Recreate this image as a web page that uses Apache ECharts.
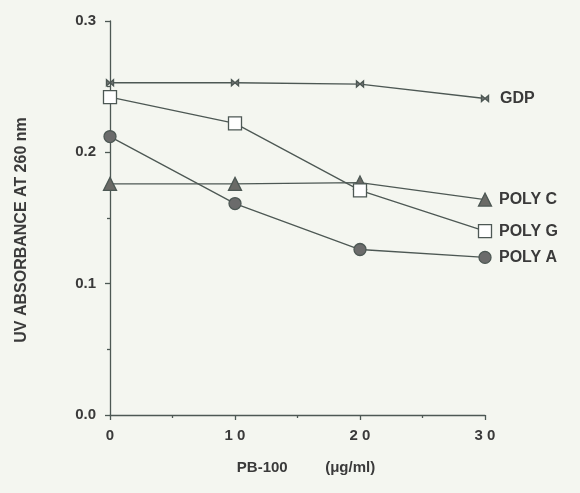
<!DOCTYPE html>
<html><head><meta charset="utf-8">
<script src="https://cdn.jsdelivr.net/npm/echarts@6/dist/echarts.min.js"></script>
<style>html,body{margin:0;padding:0;background:#f4f6f0;}#c{width:580px;height:493px;}</style>
</head><body><div id="c"></div>
<script>
const xValues = [0, 10, 20, 30];
const xTickLabels = {0: '0', 10: '1 0', 20: '2 0', 30: '3 0'};
const yTickLabels = {0: '0.0', 0.1: '0.1', 0.2: '0.2', 0.3: '0.3'};
const seriesNames = ['GDP', 'POLY C', 'POLY G', 'POLY A'];
const gdp = [0.253, 0.253, 0.252, 0.241];
const polyC = [0.176, 0.176, 0.177, 0.164];
const polyG = [0.242, 0.222, 0.171, 0.140];
const polyA = [0.212, 0.161, 0.126, 0.120];
const xTitle = 'PB-100         (\u03bcg/ml)';
const yTitle = 'UV ABSORBANCE AT 260 nm';

const lineColor = '#4d5854';
const textColor = '#3a3a3a';
const font = 'Liberation Sans';

function mk(name, vals, symbol, size, fill, dist) {
  return {
    name: name, type: 'line',
    data: vals.map((v, i) => [xValues[i], v]),
    symbol: symbol, symbolSize: size,
    lineStyle: {color: lineColor, width: 1.3},
    itemStyle: {color: fill, borderColor: lineColor, borderWidth: 1.3},
    endLabel: {show: true, formatter: name, color: textColor, fontFamily: font,
      fontWeight: 'bold', fontSize: 16, distance: dist},
    emphasis: {disabled: true},
    animation: false, z: 3
  };
}

const chart = echarts.init(document.getElementById('c'));
chart.setOption({
  backgroundColor: '#f4f6f0',
  animation: false,
  grid: {left: 110, right: 95, top: 21, bottom: 78},
  xAxis: {
    type: 'value', min: 0, max: 30, interval: 10,
    name: xTitle, nameLocation: 'middle', nameGap: 45,
    nameTextStyle: {color: textColor, fontFamily: font, fontWeight: 'bold', fontSize: 15, padding: [0, 0, 0, 17]},
    axisLine: {lineStyle: {color: lineColor, width: 1.3}},
    axisTick: {show: true, inside: false, length: 5, lineStyle: {color: lineColor, width: 1.3}},
    minorTick: {show: true, splitNumber: 2, length: 3, lineStyle: {color: lineColor, width: 1.3}},
    splitLine: {show: false},
    axisLabel: {color: textColor, fontFamily: font, fontWeight: 'bold', fontSize: 15, margin: 13,
      formatter: v => xTickLabels[v] !== undefined ? xTickLabels[v] : ''}
  },
  yAxis: {
    type: 'value', min: 0, max: 0.3, interval: 0.1,
    name: yTitle, nameLocation: 'middle', nameGap: 80, nameRotate: 90,
    nameTextStyle: {color: textColor, fontFamily: font, fontWeight: 'bold', fontSize: 16, padding: [0, 24, 0, 0]},
    axisLine: {show: true, lineStyle: {color: lineColor, width: 1.3}},
    axisTick: {show: true, inside: false, length: 5, lineStyle: {color: lineColor, width: 1.3}},
    minorTick: {show: true, splitNumber: 2, length: 3, lineStyle: {color: lineColor, width: 1.3}},
    splitLine: {show: false},
    axisLabel: {color: textColor, fontFamily: font, fontWeight: 'bold', fontSize: 15, margin: 14,
      formatter: v => { const k = Math.round(v * 10) / 10; return yTickLabels[k] || ''; }}
  },
  series: [
    mk('GDP', gdp, 'path://M0,0L10,7L10,0L0,7Z', [7, 6], '#777', 15),
    mk('POLY C', polyC, 'triangle', 13, '#6a6a66', 14),
    mk('POLY G', polyG, 'rect', 13, '#ffffff', 14),
    mk('POLY A', polyA, 'circle', 12, '#6b6b6b', 14)
  ]
});
</script></body></html>
